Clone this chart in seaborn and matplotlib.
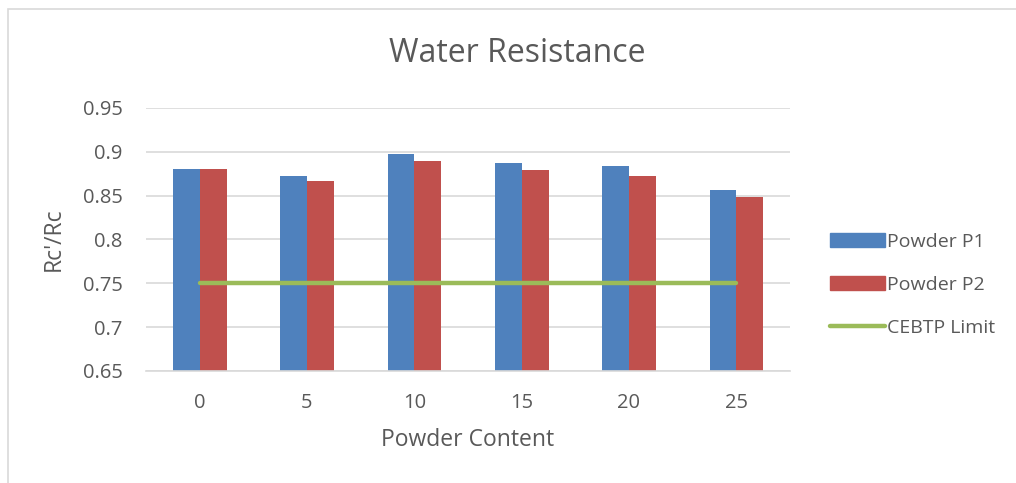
import matplotlib
matplotlib.use("Agg")
import matplotlib.pyplot as plt
from matplotlib.patches import Rectangle
from matplotlib.lines import Line2D
import pandas as pd
import seaborn as sns

categories = ["0", "5", "10", "15", "20", "25"]
powder_p1 = [0.880, 0.872, 0.897, 0.887, 0.884, 0.857]
powder_p2 = [0.880, 0.867, 0.889, 0.879, 0.873, 0.848]
cebtp_limit = [0.75, 0.75, 0.75, 0.75, 0.75, 0.75]
series_names = ["Powder P1", "Powder P2", "CEBTP Limit"]
y_ticks = [0.65, 0.7, 0.75, 0.8, 0.85, 0.9, 0.95]
y_tick_labels = ["0.65", "0.7", "0.75", "0.8", "0.85", "0.9", "0.95"]

blue, red, green = "#4F81BD", "#C0504D", "#9BBB59"
text_col = "#595959"
grid_col = "#D9D9D9"

sns.set_style("white")
plt.rcParams["font.family"] = ["Open Sans", "DejaVu Sans"]

df = pd.DataFrame({
    "content": categories * 2,
    "value": powder_p1 + powder_p2,
    "series": [series_names[0]] * 6 + [series_names[1]] * 6,
})

fig = plt.figure(figsize=(10.16, 4.83), dpi=100)
ax = fig.add_axes([146 / 1016, 112 / 483, 644 / 1016, 263 / 483])

sns.barplot(data=df, x="content", y="value", hue="series", order=categories,
            palette=[blue, red], width=0.5, ax=ax, legend=False,
            edgecolor="none", saturation=1)
ax.plot(range(len(categories)), cebtp_limit, color=green, lw=3.2,
        solid_capstyle="round", zorder=5)

ax.set_xlim(-0.5, len(categories) - 0.5)
ax.set_ylim(0.65, 0.95)
ax.set_yticks(y_ticks)
ax.set_yticklabels(y_tick_labels)
ax.yaxis.grid(True, color=grid_col, lw=1.2)
ax.set_axisbelow(True)
for s in ["top", "right", "left"]:
    ax.spines[s].set_visible(False)
ax.spines["bottom"].set_color(grid_col)
ax.spines["bottom"].set_linewidth(1.2)
ax.tick_params(axis="both", length=0, labelsize=14.5, colors=text_col)
ax.tick_params(axis="y", pad=17)
ax.tick_params(axis="x", pad=16)

ax.set_xlabel("Powder Content", fontsize=16.5, color=text_col, labelpad=11)
ax.set_ylabel("Rc'/Rc", fontsize=16.5, color=text_col, labelpad=12)
fig.text(0.509, 0.89, "Water Resistance", ha="center", va="center",
         fontsize=23, color=text_col)

handles = [
    Rectangle((0, 0), 1, 1, color=blue),
    Rectangle((0, 0), 1, 1, color=red),
    Line2D([0], [0], color=green, lw=3.2, solid_capstyle="round"),
]
fig.legend(handles, series_names, loc="center left",
           bbox_to_anchor=(822 / 1016, 1 - 285 / 483),
           frameon=False, fontsize=14, labelcolor=text_col,
           handlelength=2.85, handleheight=0.72, handletextpad=0.1,
           labelspacing=1.3, borderaxespad=0)

# chart border
fig.add_artist(Rectangle((8 / 1016, -0.1), 1.1, 1 - 9 / 483 + 0.1,
                         transform=fig.transFigure, fill=False,
                         edgecolor="#D9D9D9", lw=1.2))

fig.savefig("out.png", dpi=100)
